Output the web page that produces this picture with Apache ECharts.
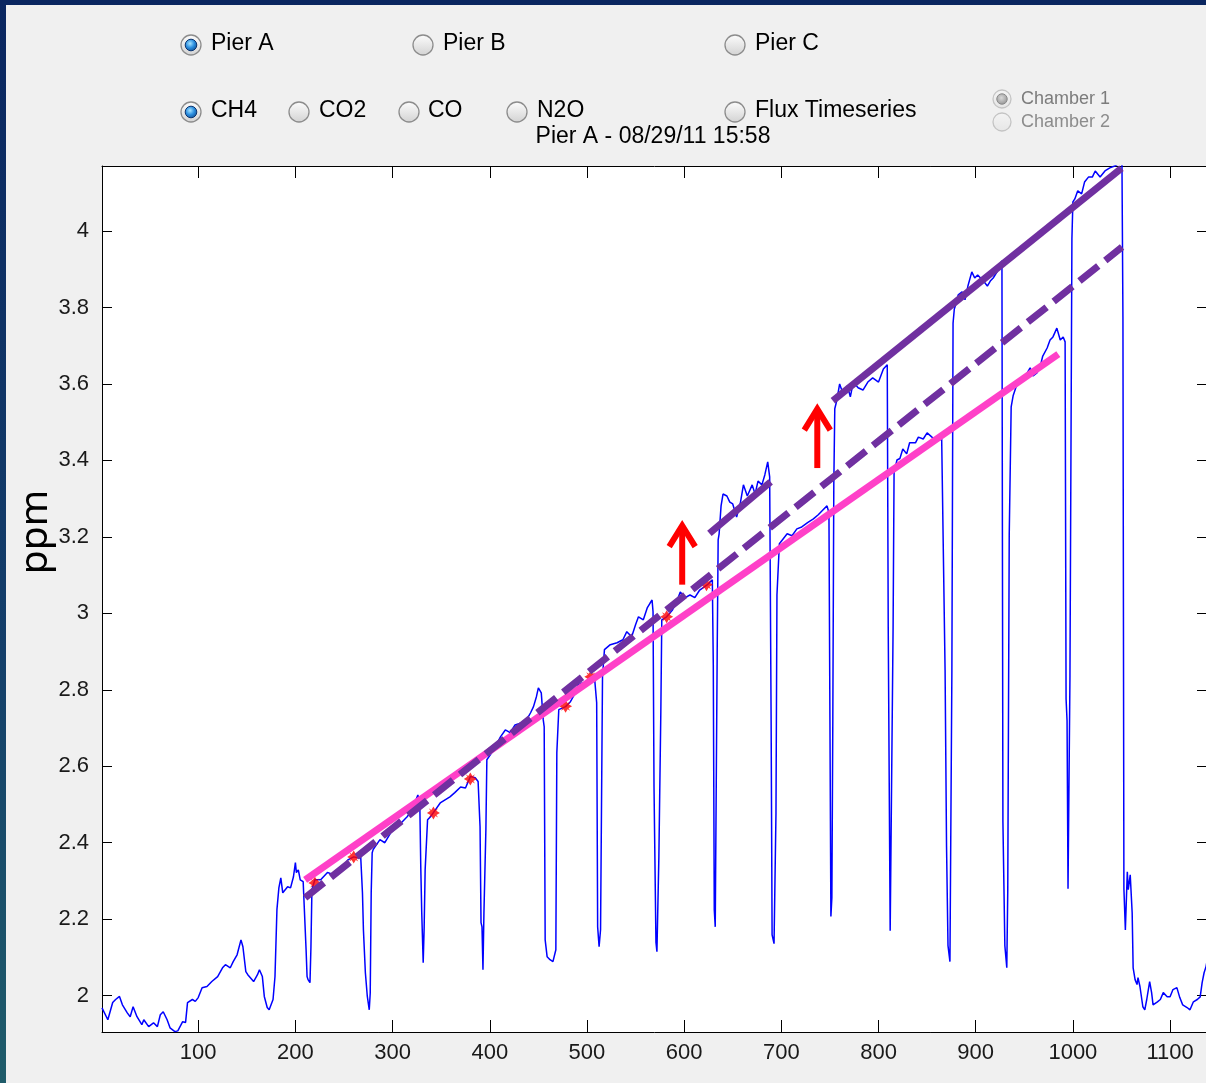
<!DOCTYPE html>
<html>
<head>
<meta charset="utf-8">
<title>Pier A CH4</title>
<script src="https://cdn.jsdelivr.net/npm/echarts@6/dist/echarts.min.js"></script>
<style>
html, body { margin: 0; padding: 0; width: 1206px; height: 1083px; overflow: hidden; }
body { background: linear-gradient(to bottom, #0a2660 0%, #143f6a 60%, #1f5c6a 100%); position: relative; }
#panel { position: absolute; left: 6px; top: 5px; right: 0; bottom: 0; background: #f0f0f0; }
#chart { position: absolute; left: 0; top: 0; width: 1210px; height: 1083px; }
</style>
</head>
<body>
<div id="panel"></div>
<div id="chart"></div>
<script>
// CH4 time series (sample index vs ppm)
var sampleIdx = [
  1,7,12,15,19,22,27,30,33,37,42,44,49,54,58,61,64,68,71,76,79,84,87,89,94,97,100,104,109,114,120,125,128,133,136,140,144,146,149,151,157,161,163,166,168,171,173,177,179,181,183,185,187,192,195,198,200,201,203,205,208,210,
  211,212,213,215,216,217,220,
  226,233,238,243,249,254,260,265,267,
  269,270,272,274,276,277,278,279,
  280,287,292,298,305,310,315,320,324,326,328,
  329,330,331.5,332.5,333.5,336,
  339,344,349,354,359,364,370,375,380,385,388,
  390,391,392,393,394,396,397,
  404,411,416,421,426,433,438,442,445,448,450,453,455,
  456,457,459,462,465,468,469,471,
  478,483,488,491,495,500,505,508,
  510,511,512.5,514,516,
  518,524,531,537,541,546,550,553,558,562,565,567,568,
  569,571,572,574,576,577,
  582,588,593,596,601,606,611,616,624,629,
  630,631,632,634,635,636,
  638,640,644,647,650,654,658,661,665,670,673,676,680,683,686,688,
  689.5,690.5,692.5,694.5,695.5,698,
  701,706,711,716,721,727,733,738,743,747,749,
  750,751,752,753,754,755,
  757,760,764,768,771,774,779,784,789,794,800,805,809,
  810,812,814,815,816,
  819,822,825,829,832,838,841,846,850,855,860,865,
  868.5,870,871.5,873.5,875.5,876.7,878,
  879,882,886,889,892,896,899,902,908,912,915,918,922,925,927,
  928,930,932,933,934.5,936.5,
  938.5,941.5,944.5,949,953,956,959,963,966,969,973.5,976.5,979.5,983.5,987,990,992,
  993,994,995,997,999,1000,
  1002,1005,1009,1012,1016,1020,1023,1028,1033,1038,1043,1048,1050.5,
  1051.5,1052.5,1054,1056,1057,1059,1061,1062,1064,1066,1067,1069,1072,1074,1076,1079,1081,1082.5,1087,1090,
  1093,1097,1100,1103,1107,1110,1113,1117.5,1120.5,1124,1128,1131,1133,1135,1137,1138
]
var ch4Ppm = [
  1.968,1.937,1.982,1.990,1.998,1.976,1.955,1.945,1.971,1.945,1.924,1.937,1.919,1.929,1.919,1.950,1.958,1.937,1.916,1.906,1.908,1.932,1.930,1.982,1.990,1.985,1.995,2.021,2.024,2.037,2.050,2.073,2.081,2.073,2.089,2.107,2.146,2.128,2.063,2.055,2.037,2.055,2.068,2.050,1.998,1.969,1.963,1.990,2.050,2.225,2.282,2.308,2.269,2.285,2.282,2.311,2.348,2.322,2.329,2.303,2.298,2.295,
  2.120,2.050,2.042,2.034,2.128,2.277,2.303,
  2.303,2.322,2.318,2.329,2.337,2.355,2.363,2.360,2.374,
  2.269,2.172,2.060,1.998,1.963,2.007,2.269,2.374,
  2.382,2.408,2.400,2.426,2.442,2.455,2.468,2.486,2.512,2.525,2.504,
  2.337,2.217,2.086,2.180,2.329,2.460,
  2.468,2.486,2.504,2.512,2.520,2.531,2.546,2.543,2.573,2.570,2.560,
  2.442,2.191,2.180,2.068,2.217,2.434,2.617,
  2.643,2.677,2.695,2.688,2.708,2.714,2.722,2.740,2.756,2.782,2.805,2.792,2.722,
  2.703,2.146,2.102,2.094,2.089,2.120,2.635,2.748,
  2.756,2.769,2.792,2.813,2.818,2.818,2.834,2.826,
  2.766,2.180,2.128,2.173,2.834,
  2.905,2.918,2.923,2.931,2.952,2.939,2.970,2.991,2.983,3.014,3.027,3.035,3.004,
  2.546,2.139,2.115,2.363,2.740,2.983,
  2.991,3.009,3.035,3.056,3.041,3.048,3.041,3.061,3.075,3.088,
  2.863,2.225,2.180,2.897,3.192,3.208,
  3.281,3.312,3.307,3.291,3.286,3.252,3.291,3.336,3.307,3.336,3.312,3.346,3.336,3.362,3.396,3.357,
  2.719,2.159,2.136,2.478,3.048,3.182,
  3.192,3.208,3.203,3.221,3.226,3.237,3.247,3.258,3.271,3.281,3.263,
  2.729,2.207,2.256,2.729,3.336,3.535,
  3.556,3.600,3.571,3.595,3.566,3.605,3.590,3.584,3.605,3.616,3.605,3.639,3.650,
  2.962,2.170,2.175,2.962,3.367,
  3.401,3.405,3.430,3.417,3.446,3.446,3.461,3.456,3.472,3.461,3.451,3.456,
  2.852,2.390,2.131,2.089,2.850,3.759,3.796,
  3.804,3.833,3.841,3.820,3.856,3.893,3.877,3.885,3.869,3.856,3.869,3.877,3.893,3.914,3.922,
  2.455,2.131,2.073,2.277,3.203,3.540,
  3.569,3.592,3.605,3.613,3.629,3.642,3.621,3.629,3.642,3.673,3.694,3.715,3.723,3.746,3.715,3.723,3.710,
  2.776,2.719,2.280,2.837,3.979,4.076,
  4.084,4.105,4.097,4.128,4.141,4.141,4.157,4.141,4.157,4.165,4.170,4.178,4.178,
  3.775,2.280,2.172,2.324,2.277,2.316,2.217,2.073,2.042,2.029,2.047,2.024,1.971,1.963,1.990,2.037,2.008,1.976,1.984,1.990,
  2.008,1.997,1.997,2.016,2.021,1.995,1.976,1.969,1.963,1.984,1.990,1.997,2.034,2.060,2.076,2.090
]

// end-of-closure points (red stars)
var markIdx = [220, 260, 342, 380, 478, 504, 582, 623]
var markPpm = [2.295, 2.363, 2.478, 2.567, 2.757, 2.834, 2.991, 3.075]

// fitted lines
var lowFitX = [210, 985]
var lowFitY = [2.303, 3.678]
var dashFitX = [210, 1050.6]
var dashFitY = [2.256, 3.958]
var highFit1X = [626, 689]
var highFit1Y = [3.209, 3.344]
var highFit2X = [753, 1050]
var highFit2Y = [3.556, 4.164]

// arrows: x, base, tip
var arrowX = [598, 737]
var arrowBase = [3.075, 3.38]
var arrowTip = [3.245, 3.55]

var xTicks = [100, 200, 300, 400, 500, 600, 700, 800, 900, 1000, 1100]
var yTicks = [2, 2.2, 2.4, 2.6, 2.8, 3, 3.2, 3.4, 3.6, 3.8, 4]

var uiFont = '"Liberation Sans", Arial, sans-serif'

function zip(xs, ys) {
  return xs.map(function (x, i) { return [x, ys[i]] })
}

function radio(cx, cy, r, on, dim) {
  var els = [{
    type: 'circle',
    shape: { cx: cx, cy: cy, r: r },
    style: {
      fill: { type: 'linear', x: 0, y: 0, x2: 0, y2: 1, colorStops: [{ offset: 0, color: dim ? '#f4f4f4' : '#fdfdfd' }, { offset: 1, color: dim ? '#e6e6e6' : '#d2d2d2' }] },
      stroke: dim ? '#c4c4c4' : '#8c8c8c',
      lineWidth: 1.3
    }
  }]
  if (on) {
    els.push({
      type: 'circle',
      shape: { cx: cx, cy: cy, r: r * 0.58 },
      style: {
        fill: dim
          ? { type: 'radial', x: 0.45, y: 0.4, r: 0.7, colorStops: [{ offset: 0, color: '#d8d8d8' }, { offset: 1, color: '#8a8a8a' }] }
          : { type: 'radial', x: 0.42, y: 0.38, r: 0.75, colorStops: [{ offset: 0, color: '#a8e4ff' }, { offset: 0.45, color: '#2b8fe0' }, { offset: 1, color: '#0b3a78' }] },
        stroke: dim ? '#8a8a8a' : '#0a3470',
        lineWidth: 1
      }
    })
  }
  return els
}

function label(x, y, text, size, color, align) {
  return {
    type: 'text',
    x: x,
    y: y,
    style: {
      text: text,
      fill: color || '#000',
      font: size + 'px ' + uiFont,
      align: align || 'left',
      verticalAlign: 'middle'
    }
  }
}

var gfx = [].concat(
  radio(191, 45, 10, true), [label(211, 44, 'Pier A', 23)],
  radio(423, 45, 10, false), [label(443, 44, 'Pier B', 23)],
  radio(735, 45, 10, false), [label(755, 44, 'Pier C', 23)],
  radio(191, 112, 10, true), [label(211, 111, 'CH4', 23)],
  radio(299, 112, 10, false), [label(319, 111, 'CO2', 23)],
  radio(409, 112, 10, false), [label(428, 111, 'CO', 23)],
  radio(517, 112, 10, false), [label(537, 111, 'N2O', 23)],
  radio(735, 112, 10, false), [label(755, 111, 'Flux Timeseries', 23)],
  radio(1002, 99, 9, true, true), [label(1021, 99, 'Chamber 1', 18, '#7c7c7c')],
  radio(1002, 122, 9, false, true), [label(1021, 122, 'Chamber 2', 18, '#8c8c8c')],
  [label(653, 137, 'Pier A - 08/29/11 15:58', 23, '#000', 'center')],
  [{
    type: 'text',
    x: 36,
    y: 532,
    rotation: Math.PI / 2,
    style: { text: 'ppm', fill: '#000', font: '39px "Noto Sans", "Open Sans", sans-serif', align: 'center', verticalAlign: 'middle' }
  }]
)

var tickFont = { color: '#1a1a1a', fontSize: 22, fontFamily: uiFont, formatter: function (v) { return String(v) } }

function xAx(pos) {
  return {
    type: 'value', min: 1, max: 1138, position: pos,
    axisLine: { show: true, onZero: false, lineStyle: { color: '#000', width: 1 } },
    axisTick: { show: true, inside: true, length: 12, customValues: xTicks, lineStyle: { color: '#000', width: 1 } },
    axisLabel: pos === 'bottom' ? Object.assign({ customValues: xTicks, margin: 10 }, tickFont) : { show: false },
    splitLine: { show: false }
  }
}
function yAx(pos) {
  return {
    type: 'value', min: 1.905, max: 4.17, position: pos,
    axisLine: { show: true, onZero: false, lineStyle: { color: '#000', width: 1 } },
    axisTick: { show: true, inside: true, length: 10, customValues: yTicks, lineStyle: { color: '#000', width: 1 } },
    axisLabel: pos === 'left' ? Object.assign({ customValues: yTicks, margin: 13 }, tickFont) : { show: false },
    splitLine: { show: false }
  }
}

var starPath = 'path://M0,-10 L3.2,-4.6 L7.1,-7.1 L4.6,-3.2 L10,0 L4.6,3.2 L7.1,7.1 L3.2,4.6 L0,10 L-3.2,4.6 L-7.1,7.1 L-4.6,3.2 L-10,0 L-4.6,-3.2 L-7.1,-7.1 L-3.2,-4.6 Z'

function fitLine(xs, ys, color, dash) {
  return {
    type: 'line',
    data: zip(xs, ys),
    symbol: 'none',
    lineStyle: { color: color, width: 7, type: dash || 'solid', cap: 'butt' },
    z: 4,
    silent: true
  }
}

var chart = echarts.init(document.getElementById('chart'), null, { renderer: 'canvas' })
chart.setOption({
  animation: false,
  backgroundColor: 'transparent',
  grid: { left: 102, top: 166, right: 3, bottom: 51, show: true, backgroundColor: '#ffffff', borderWidth: 0, outerBoundsMode: 'none' },
  xAxis: [xAx('bottom'), xAx('top')],
  yAxis: [yAx('left'), yAx('right')],
  graphic: gfx,
  series: [
    {
      type: 'line',
      data: zip(sampleIdx, ch4Ppm),
      symbol: 'none',
      lineStyle: { color: '#0000ff', width: 1.5 },
      z: 2
    },
    {
      type: 'scatter',
      data: zip(markIdx, markPpm),
      symbol: starPath,
      symbolSize: 13,
      itemStyle: { color: '#ff0000' },
      z: 3
    },
    fitLine(lowFitX, lowFitY, '#ff40c8'),
    fitLine(dashFitX, dashFitY, '#7030a0', [24, 9]),
    fitLine(highFit1X, highFit1Y, '#7030a0'),
    fitLine(highFit2X, highFit2Y, '#7030a0'),
    {
      type: 'custom',
      data: arrowX.map(function (x, i) { return [x, arrowBase[i], arrowTip[i]] }),
      encode: { x: 0, y: [1, 2] },
      z: 5,
      renderItem: function (params, api) {
        var base = api.coord([api.value(0), api.value(1)])
        var tip = api.coord([api.value(0), api.value(2)])
        return {
          type: 'group',
          children: [
            { type: 'line', shape: { x1: base[0], y1: base[1], x2: tip[0], y2: tip[1] + 6 }, style: { stroke: '#ff0000', lineWidth: 6 } },
            { type: 'polyline', shape: { points: [[tip[0] - 13, tip[1] + 27], [tip[0], tip[1] + 6], [tip[0] + 13, tip[1] + 27]] }, style: { stroke: '#ff0000', fill: null, lineWidth: 6, lineJoin: 'miter' } }
          ]
        }
      }
    }
  ]
})
</script>
</body>
</html>
